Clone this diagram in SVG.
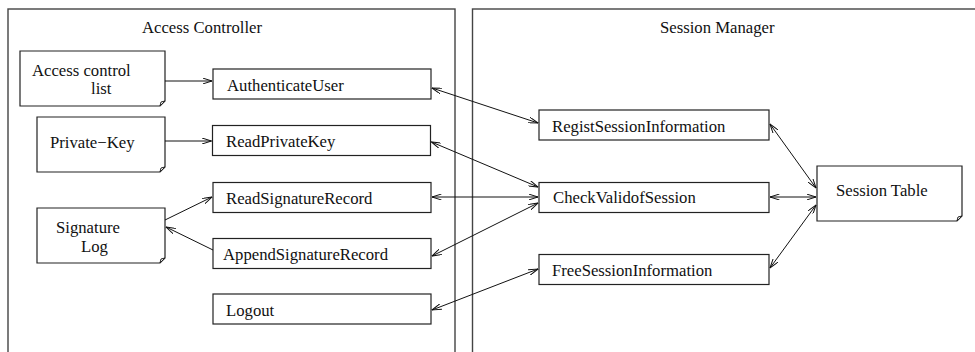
<svg xmlns="http://www.w3.org/2000/svg" width="975" height="352" viewBox="0 0 975 352">
<style>
text{font-family:"Liberation Serif","Times New Roman",serif;font-size:16.7px;fill:#111}
.cont{fill:none;stroke:#444;stroke-width:1.4}
.box{fill:#fff;stroke:#222;stroke-width:1.2}
.doc{fill:#fff;stroke:#222;stroke-width:1.2}
.fold{fill:#fff;stroke:#222;stroke-width:1}
.c{fill:none;stroke:#111;stroke-width:1}
.b{marker-start:url(#ah);marker-end:url(#ah)}
.e{marker-end:url(#ah)}
</style>
<defs>
<marker id="ah" viewBox="0 0 10 6" refX="9.5" refY="3" markerWidth="10" markerHeight="6" markerUnits="userSpaceOnUse" orient="auto-start-reverse">
<path d="M0,0 L9.5,3 L0,6" fill="none" stroke="#111" stroke-width="1"/>
</marker>
</defs>
<rect width="975" height="352" fill="#fff"/>
<g id="access-controller">
<rect class="cont" x="8" y="9" width="447" height="360"/>
<text x="142" y="33">Access Controller</text>
</g>
<g id="session-manager">
<rect class="cont" x="472.5" y="9" width="520" height="360"/>
<text x="660" y="33">Session Manager</text>
</g>
<g id="access-control-list">
<path class="doc" d="M20,51 H165 V101 L160,106 H20 Z"/>
<path class="fold" d="M165,101 L160,106 L161,102 Z"/>
<text x="32" y="76">Access control</text>
<text x="91" y="94">list</text>
</g>
<g id="private-key">
<path class="doc" d="M37,117 H165 V167 L160,172 H37 Z"/>
<path class="fold" d="M165,167 L160,172 L161,168 Z"/>
<text x="50" y="148">Private−Key</text>
</g>
<g id="signature-log">
<path class="doc" d="M37,208 H165 V258 L160,263 H37 Z"/>
<path class="fold" d="M165,258 L160,263 L161,259 Z"/>
<text x="56" y="233">Signature</text>
<text x="81" y="252">Log</text>
</g>
<g id="authenticate-user">
<rect class="box" x="213" y="69" width="218" height="30"/>
<text x="227" y="91">AuthenticateUser</text>
</g>
<g id="read-private-key">
<rect class="box" x="212.5" y="125.5" width="218" height="30"/>
<text x="226" y="147">ReadPrivateKey</text>
</g>
<g id="read-signature-record">
<rect class="box" x="213" y="182.5" width="218" height="30"/>
<text x="226" y="204">ReadSignatureRecord</text>
</g>
<g id="append-signature-record">
<rect class="box" x="213" y="238.5" width="218" height="30"/>
<text x="223" y="260">AppendSignatureRecord</text>
</g>
<g id="logout">
<rect class="box" x="213" y="294" width="218" height="30"/>
<text x="226" y="316">Logout</text>
</g>
<g id="regist-session-information">
<rect class="box" x="539" y="110" width="230" height="30"/>
<text x="552" y="132">RegistSessionInformation</text>
</g>
<g id="check-valid-of-session">
<rect class="box" x="539" y="182.5" width="230" height="30"/>
<text x="553" y="203">CheckValidofSession</text>
</g>
<g id="free-session-information">
<rect class="box" x="539" y="254.5" width="230" height="30"/>
<text x="552" y="276">FreeSessionInformation</text>
</g>
<g id="session-table">
<path class="doc" d="M817,166 H962 V216 L957,221 H817 Z"/>
<path class="fold" d="M962,216 L957,221 L958,217 Z"/>
<text x="836" y="196">Session Table</text>
</g>
<g id="connectors">
<line class="c e" x1="165" y1="81" x2="212" y2="81"/>
<line class="c e" x1="165" y1="141" x2="211.5" y2="141"/>
<line class="c e" x1="165" y1="220" x2="212" y2="197"/>
<line class="c e" x1="213" y1="250" x2="166" y2="227"/>
<line class="c b" x1="432" y1="88" x2="538" y2="123"/>
<line class="c b" x1="431.5" y1="142" x2="538" y2="187"/>
<line class="c b" x1="432" y1="197" x2="538" y2="197"/>
<line class="c b" x1="432" y1="256" x2="538" y2="203"/>
<line class="c b" x1="432" y1="310" x2="538" y2="269"/>
<line class="c b" x1="770" y1="124" x2="816" y2="188"/>
<line class="c b" x1="770" y1="197" x2="816" y2="197"/>
<line class="c b" x1="770" y1="268" x2="816" y2="205"/>
</g>
</svg>
